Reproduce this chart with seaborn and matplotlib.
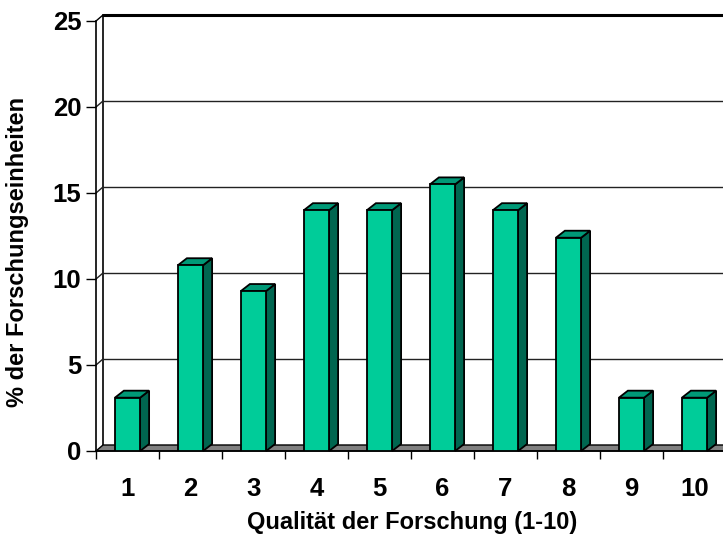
import matplotlib
matplotlib.use('Agg')
import matplotlib.pyplot as plt
import seaborn as sns
import pandas as pd
from matplotlib.patches import Polygon

# data
categories = ['1', '2', '3', '4', '5', '6', '7', '8', '9', '10']
values = [3.1, 10.8, 9.3, 14.0, 14.0, 15.5, 14.0, 12.4, 3.1, 3.1]
yticks = [0, 5, 10, 15, 20, 25]

sns.set_style('white', {'text.color': 'black', 'xtick.color': 'black',
                        'ytick.color': 'black', 'axes.labelcolor': 'black'})
plt.rcParams['font.family'] = ['Liberation Sans', 'DejaVu Sans']
plt.rcParams['font.weight'] = 'bold'

fig = plt.figure(figsize=(7.23, 5.42), dpi=100)
ax = fig.add_axes([96 / 723, 91 / 542, 630 / 723, 430 / 542])

df = pd.DataFrame({'q': categories, 'pct': values})
sns.barplot(data=df, x='q', y='pct', color='#00CC99', saturation=1,
            width=0.4, edgecolor='black', linewidth=1.3, ax=ax)
ax.set_xlim(-0.5, 9.5)
ax.set_ylim(0, 25)


def shift(x, y, dxp, dyp):
    # move a data point by some pixels (fake 3d depth)
    return (x + dxp / (ax.bbox.width / 10), y + dyp / (ax.bbox.height / 25))


wall_dx, wall_dy = 7, 6
bar_dx, bar_dy = 9, 7

# back wall + side wall gridlines
bx, _ = shift(-0.5, 0, wall_dx, wall_dy)
ax.plot([bx, bx], [shift(0, 0, 0, wall_dy)[1], shift(0, 25, 0, wall_dy)[1]],
        color='black', lw=1.2, zorder=1, clip_on=False)
for v in yticks[1:]:
    p0 = shift(-0.5, v, wall_dx, wall_dy)
    p1 = shift(10.5, v, wall_dx, wall_dy)
    lw = 2.2 if v == yticks[-1] else 1.0
    col = 'black' if v == yticks[-1] else '#222222'
    ax.plot([p0[0], p1[0]], [p0[1], p1[1]], color=col, lw=lw, zorder=1, clip_on=False)
    ax.plot([-0.5, p0[0]], [v, p0[1]], color=col, lw=1.0, zorder=1, clip_on=False)

# floor
floor = Polygon([(-0.5, 0), (10.5, 0), shift(10.5, 0, wall_dx, wall_dy),
                 shift(-0.5, 0, wall_dx, wall_dy)],
                facecolor='#808080', edgecolor='black', lw=1.0, zorder=2, clip_on=False)
ax.add_patch(floor)

# bars: front from seaborn, add side and top faces
bars = list(ax.patches)[:len(values)]
for p in bars:
    p.set_zorder(5)
    x0 = p.get_x()
    x1 = x0 + p.get_width()
    h = p.get_height()
    side = Polygon([(x1, 0), (x1, h), shift(x1, h, bar_dx, bar_dy), shift(x1, 0, bar_dx, bar_dy)],
                   facecolor='#006650', edgecolor='black', lw=1.3, zorder=4, clip_on=False)
    top = Polygon([(x0, h), (x1, h), shift(x1, h, bar_dx, bar_dy), shift(x0, h, bar_dx, bar_dy)],
                  facecolor='#009977', edgecolor='black', lw=1.3, zorder=4, clip_on=False)
    ax.add_patch(side)
    ax.add_patch(top)

for s in ['top', 'right']:
    ax.spines[s].set_visible(False)
for s in ['left', 'bottom']:
    ax.spines[s].set_color('black')
    ax.spines[s].set_linewidth(1.2)
    ax.spines[s].set_zorder(3)

ax.set_yticks(yticks)
ax.set_yticklabels([str(v) for v in yticks])
ax.tick_params(axis='y', direction='out', length=7, width=1, color='black',
               pad=3.5, labelsize=18.5, left=True)
ax.set_xticks(range(len(categories)))
ax.set_xticklabels(categories)
ax.set_xticks([i - 0.5 for i in range(len(categories) + 1)], minor=True)
ax.tick_params(axis='x', which='major', length=0, pad=18.5, labelsize=18.5)
ax.tick_params(axis='x', which='minor', direction='out', length=6, width=1,
               color='black', bottom=True)

ax.set_xlabel('Qualität der Forschung (1-10)', fontsize=17, fontweight='bold')
ax.xaxis.set_label_coords((412 - 96) / 630, -(522 - 451) / 430)
ax.xaxis.label.set_va('center')
ax.set_ylabel('')
fig.text(18 / 723, 1 - 252 / 542, '% der Forschungseinheiten', rotation=90,
         ha='center', va='center', fontsize=17, fontweight='bold')

fig.savefig('out.png', dpi=100)
